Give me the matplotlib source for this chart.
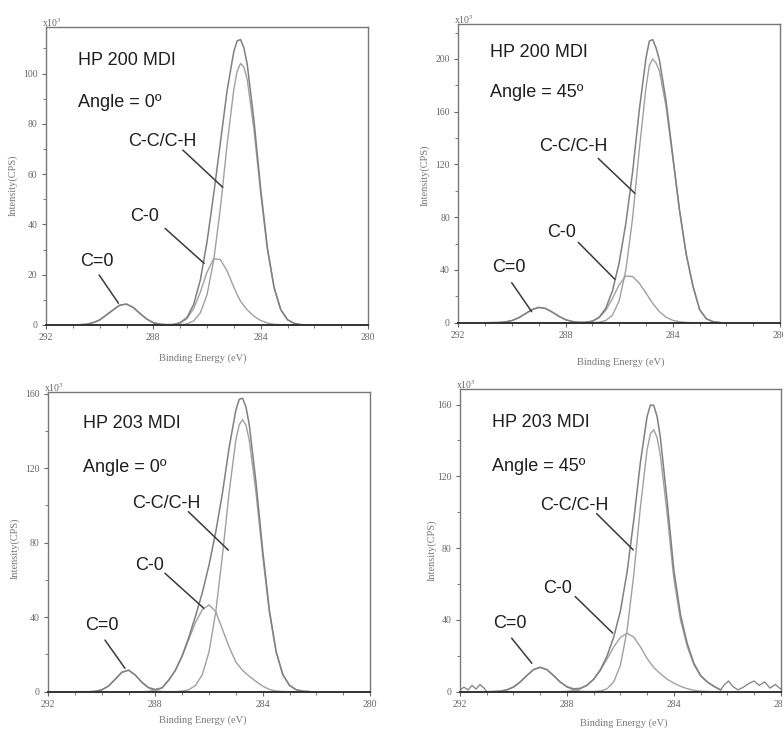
import matplotlib
matplotlib.use("Agg")
import matplotlib.pyplot as plt
from matplotlib.ticker import MultipleLocator

plt.rcParams["mathtext.fontset"] = "stix"

# ---------------- data ----------------
energy = [291.0, 290.75, 290.5, 290.25, 290.0, 289.75, 289.5, 289.25, 289.0, 288.75,
          288.5, 288.25, 288.0, 287.75, 287.5, 287.25, 287.0, 286.75, 286.5, 286.25,
          286.0, 285.75, 285.5, 285.25, 285.0, 284.875, 284.75, 284.625, 284.5, 284.25,
          284.0, 283.75, 283.5, 283.25, 283.0, 282.75, 282.5, 282.25]

samples = ["HP 200 MDI", "HP 200 MDI", "HP 203 MDI", "HP 203 MDI"]
angles = ["Angle = 0º", "Angle = 45º", "Angle = 0º", "Angle = 45º"]
peak_labels = ["C-C/C-H", "C-0", "C=0"]

# panel 1: HP 200 MDI, 0 deg
p1_cdo = [0, 0.1, 0.3, 0.9, 2.0, 4.0, 6.0, 7.9, 8.3, 7.0, 4.6, 2.4, 0.9, 0.3, 0.1,
          0, 0, 0, 0, 0, 0, 0, 0, 0, 0, 0, 0, 0, 0, 0, 0, 0, 0, 0, 0, 0, 0, 0]
p1_co = [0, 0, 0, 0, 0, 0, 0, 0, 0, 0, 0, 0, 0, 0,
         0.05, 0.2, 0.8, 2.5, 6.5, 13, 21, 26.4, 26, 21.5, 15, 12, 9.5, 7.7, 6, 3.5, 1.8,
         0.8, 0.3, 0.1, 0, 0, 0, 0]
p1_cc = [0, 0, 0, 0, 0, 0, 0, 0, 0, 0, 0, 0, 0, 0, 0, 0,
         0.1, 0.45, 1.6, 4.8, 12, 25.7, 46.6, 71.8, 93.8, 101, 104, 102.5, 97.6, 77.8, 52.4,
         30, 14.7, 6, 2.1, 0.6, 0.15, 0]
p1_env = [0, 0.1, 0.3, 0.9, 2.0, 4.0, 6.0, 7.9, 8.3, 7.0, 4.6, 2.4, 0.9, 0.3, 0.15, 0.2,
          0.9, 2.95, 8.1, 17.8, 33, 52.1, 72.6, 93.3, 108.8, 113, 113.5, 110.2, 103.6, 81.3,
          54.2, 30.8, 15, 6.1, 2.1, 0.6, 0.15, 0]

# panel 2: HP 200 MDI, 45 deg
p2_cdo = [0, 0.05, 0.15, 0.6, 1.6, 3.7, 6.8, 9.9, 11.6, 10.8, 8.1, 4.9, 2.3, 0.9, 0.25, 0.05,
          0, 0, 0, 0, 0, 0, 0, 0, 0, 0, 0, 0, 0, 0, 0, 0, 0, 0, 0, 0, 0, 0]
p2_co = [0, 0, 0, 0, 0, 0, 0, 0, 0, 0, 0, 0, 0, 0,
         0.05, 0.3, 1.1, 3.7, 9.3, 18.4, 28.8, 35.4, 35, 30, 22.5, 18.5, 14.7, 11.5, 8.4, 4.2,
         1.8, 0.7, 0.2, 0, 0, 0, 0, 0]
p2_cc = [0, 0, 0, 0, 0, 0, 0, 0, 0, 0, 0, 0, 0, 0, 0, 0,
         0.1, 0.4, 1.6, 5.7, 16.6, 40, 79, 131, 178, 195, 200, 197, 191, 164, 125, 85, 52, 28,
         10, 3, 0.8, 0.2]
p2_env = [0, 0.05, 0.15, 0.6, 1.6, 3.7, 6.8, 9.9, 11.6, 10.8, 8.1, 4.9, 2.3, 0.9, 0.3, 0.35,
          1.2, 4.1, 10.9, 24.1, 45.4, 75.4, 114, 161, 200.5, 213.5, 214.7, 208.5, 199.4, 168.2,
          126.8, 85.7, 52.2, 28, 10, 3, 0.8, 0.2]

# panel 3: HP 203 MDI, 0 deg
p3_cdo = [0, 0, 0, 0.2, 0.95, 3.0, 6.6, 10.4, 11.55, 9.0, 5.0, 2.0, 0.5, 0.1,
          0, 0, 0, 0, 0, 0, 0, 0, 0, 0, 0, 0, 0, 0, 0, 0, 0, 0, 0, 0, 0, 0, 0, 0]
p3_co = [0, 0, 0, 0, 0, 0, 0, 0, 0, 0,
         0, 0.2, 0.7, 2.0, 6.2, 11.5, 19, 28.2, 37.3, 44, 46.6, 43, 33.5, 24, 16, 13.7, 11.5,
         9.8, 8.3, 5.5, 3.0, 1.2, 0.4, 0.1, 0, 0, 0, 0]
p3_cc = [0, 0, 0, 0, 0, 0, 0, 0, 0, 0, 0, 0, 0, 0, 0,
         0.07, 0.3, 1.05, 3.4, 9.1, 21.3, 42.6, 73, 107, 135, 143.2, 146, 143.2, 135, 107, 73,
         42.6, 21.3, 9.1, 3.4, 1.05, 0.3, 0.07]
p3_env = [0, 0, 0, 0.2, 0.95, 3.0, 6.6, 10.4, 11.55, 9.0, 5.0, 2.2, 1.2, 2.1, 6.2, 11.6,
          19.3, 29.3, 40.7, 53.1, 67.9, 85.6, 106.5, 131, 151, 156.9, 157.5, 153, 143.3, 112.5,
          76, 43.8, 21.7, 9.2, 3.4, 1.05, 0.3, 0.07]

# panel 4: HP 203 MDI, 45 deg
p4_cdo = [0, 0.1, 0.3, 1.0, 2.6, 5.4, 9.0, 12.3, 13.6, 12.3, 9.0, 5.4, 2.6, 1.0, 0.3, 0.1,
          0, 0, 0, 0, 0, 0, 0, 0, 0, 0, 0, 0, 0, 0, 0, 0, 0, 0, 0, 0, 0, 0]
p4_co = [0, 0, 0, 0, 0, 0, 0, 0, 0, 0, 0, 0,
         0.2, 0.6, 1.6, 3.5, 6.8, 11.8, 18.2, 24.9, 30.2, 32.6, 30.5, 25, 18.5, 16, 13.5, 11.7,
         10, 7, 4.8, 3.0, 1.7, 0.8, 0.3, 0.1, 0, 0]
p4_cc = [0, 0, 0, 0, 0, 0, 0, 0, 0, 0, 0, 0, 0, 0, 0, 0,
         0.1, 0.4, 1.6, 5.4, 14.6, 33.9, 64.9, 102.8, 134.8, 143.7, 146, 141.6, 131.4, 99.3,
         63.2, 40, 25.3, 15.1, 8.8, 5.4, 3.0, 1.0]
p4_env = [0, 0.1, 0.3, 1.0, 2.6, 5.4, 9.0, 12.3, 13.6, 12.3, 9.0, 5.4, 2.8, 1.6, 1.9, 3.6,
          6.9, 12.2, 19.8, 30.3, 44.8, 66.5, 95.4, 127.8, 153.3, 159.7, 159.5, 153.3, 141.4,
          106.3, 68, 43, 27, 15.9, 9.1, 5.5, 3.0, 1.0]
# raw-data noise visible at the ends of panel 4
p4_noise_left_e = [292.0, 291.85, 291.7, 291.55, 291.4, 291.25, 291.1, 291.0]
p4_noise_left_i = [1.0, 2.5, 1.0, 3.5, 1.5, 4.0, 2.0, 0.0]
p4_noise_right_e = [282.25, 282.1, 281.95, 281.8, 281.6, 281.4, 281.2, 281.0, 280.8, 280.6,
                    280.4, 280.2, 280.0]
p4_noise_right_i = [1.0, 4.0, 6.0, 3.0, 1.0, 2.5, 4.5, 6.0, 3.5, 5.5, 2.0, 4.0, 1.5]

components = [(p1_cdo, p1_co, p1_cc, p1_env), (p2_cdo, p2_co, p2_cc, p2_env),
              (p3_cdo, p3_co, p3_cc, p3_env), (p4_cdo, p4_co, p4_cc, p4_env)]
y_tops = [118.5, 226.5, 161, 168.5]
y_major = [20, 40, 40, 40]
x_ticks = [292, 288, 284, 280]

# ---------------- layout (pixels of the 783x732 reference) ----------------
W, H = 783, 732
rects_px = [(46, 27, 368, 325), (458.3, 24, 780, 322.7),
            (48, 391.7, 370, 691.7), (460, 389.3, 780.7, 691.7)]

text_pos = [  # HP, angle, C-C, C-0, C=0 (axes fraction, left/baseline)
    [(0.099, 0.872), (0.099, 0.732), (0.255, 0.601), (0.261, 0.349), (0.106, 0.198)],
    [(0.0985, 0.890), (0.0985, 0.756), (0.251, 0.575), (0.276, 0.287), (0.105, 0.170)],
    [(0.109, 0.879), (0.109, 0.732), (0.261, 0.612), (0.270, 0.406), (0.115, 0.206)],
    [(0.099, 0.875), (0.099, 0.730), (0.249, 0.601), (0.259, 0.326), (0.103, 0.210)],
]
leaders = [  # (start, end) in axes fraction for C-C, C-0, C=0
    [((0.425, 0.587), (0.549, 0.462)), ((0.370, 0.324), (0.491, 0.207)), ((0.165, 0.168), (0.225, 0.073))],
    [((0.435, 0.550), (0.549, 0.433)), ((0.373, 0.269), (0.487, 0.145)), ((0.166, 0.134), (0.228, 0.037))],
    [((0.436, 0.600), (0.560, 0.472)), ((0.363, 0.395), (0.484, 0.278)), ((0.177, 0.172), (0.239, 0.078))],
    [((0.426, 0.589), (0.540, 0.469)), ((0.359, 0.315), (0.476, 0.194)), ((0.161, 0.177), (0.224, 0.094))],
]
ylabel_pos = [(-0.102, 0.47), (-0.104, 0.494), (-0.102, 0.479), (-0.087, 0.468)]
xlabel_pos = [(0.488, -0.111), (0.506, -0.132), (0.481, -0.094), (0.511, -0.103)]

fig = plt.figure(figsize=(W / 100, H / 100), dpi=100)
fig.patch.set_facecolor("white")

serif = "Liberation Serif"
sans = "Liberation Sans"
comp_color = "#a0a0a0"
env_color = "#808080"

for k in range(4):
    x0, yt, x1, yb = rects_px[k]
    ax = fig.add_axes([x0 / W, (H - yb) / H, (x1 - x0) / W, (yb - yt) / H])
    cdo, co, cc, env = components[k]
    ax.plot(energy, cdo, color=comp_color, lw=1.0)
    ax.plot(energy, co, color=comp_color, lw=1.0)
    ax.plot(energy, cc, color=comp_color, lw=1.0)
    ax.plot(energy, env, color=env_color, lw=1.1)
    if k == 3:
        ax.plot(p4_noise_left_e, p4_noise_left_i, color=env_color, lw=0.9)
        ax.plot(p4_noise_right_e, p4_noise_right_i, color=env_color, lw=0.9)

    ax.set_xlim(292, 280)
    ax.set_ylim(0, y_tops[k])
    ax.set_xticks(x_ticks)
    ax.set_xticklabels([str(v) for v in x_ticks])
    ax.xaxis.set_minor_locator(MultipleLocator(1))
    ax.yaxis.set_major_locator(MultipleLocator(y_major[k]))
    ax.yaxis.set_minor_locator(MultipleLocator(y_major[k] / 2))
    ax.tick_params(which="major", direction="out", length=3, width=0.8, colors="#666666",
                   labelsize=7, pad=3)
    ax.tick_params(which="minor", direction="out", length=2, width=0.7, colors="#777777")
    for lab in ax.get_xticklabels() + ax.get_yticklabels():
        lab.set_family(serif)
        lab.set_color("#666666")
    for side in ["top", "right", "left"]:
        ax.spines[side].set_color("#777777")
        ax.spines[side].set_linewidth(1.0)
    ax.spines["bottom"].set_color("#333333")
    ax.spines["bottom"].set_linewidth(1.4)

    ax.text(-0.012, 1.0, r"x10$^{3}$", transform=ax.transAxes, fontsize=7,
            family=serif, color="#666666", va="baseline", ha="left")

    tp = text_pos[k]
    strings = [samples[k], angles[k]] + peak_labels
    for (fx, fy), s in zip(tp, strings):
        ax.text(fx, fy, s, transform=ax.transAxes, fontsize=13, family=sans,
                color="#1e1e1e", ha="left", va="baseline")
    for (st, en) in leaders[k]:
        ax.annotate("", xy=en, xytext=st, xycoords="axes fraction",
                    textcoords="axes fraction",
                    arrowprops=dict(arrowstyle="-", color="#3a3a3a", lw=1.1,
                                    shrinkA=0, shrinkB=0))

    lx, ly = ylabel_pos[k]
    ax.text(lx, ly, "Intensity(CPS)", transform=ax.transAxes, rotation=90,
            fontsize=7.5, family=serif, color="#777777", ha="center", va="center")
    bx, by = xlabel_pos[k]
    ax.text(bx, by, "Binding Energy (eV)", transform=ax.transAxes, fontsize=7.5,
            family=serif, color="#777777", ha="center", va="center")

fig.savefig("out.png", dpi=100, facecolor="white")
